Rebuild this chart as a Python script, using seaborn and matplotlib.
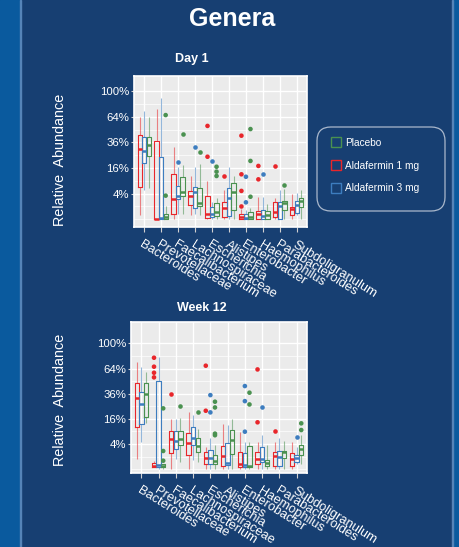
import pandas as pd
import matplotlib
matplotlib.use('Agg')
import matplotlib.pyplot as plt
import matplotlib.transforms as mtransforms
import numpy as np
import seaborn as sns
from matplotlib.patches import Rectangle, FancyBboxPatch
from matplotlib.lines import Line2D

genera = ['Bacteroides', 'Prevotellaceae', 'Faecalibacterium', 'Lachnospiraceae',
          'Escherichia', 'Alistipes', 'Enterobacter', 'Haemophilus',
          'Parabacteroides', 'Subdoligranulum']
groups = ['Aldafermin 1 mg', 'Aldafermin 3 mg', 'Placebo']
legend_order = ['Placebo', 'Aldafermin 1 mg', 'Aldafermin 3 mg']
colors = {'Aldafermin 1 mg': '#e8262b', 'Aldafermin 3 mg': '#3d7dbf', 'Placebo': '#4a9150'}

# box summaries, in %: (whisker low, Q1, median, Q3, whisker high), one per genus
day1_1mg = [(0.1, 6.5, 29.7, 43, 64), (0, 0, 0, 37.3, 73.5), (0, 0.15, 2.5, 12.3, 32),
            (0.1, 1.25, 3.4, 4.9, 11.4), (0, 0.01, 0.2, 3.3, 9.1), (0, 0.02, 0.73, 1.9, 5.2),
            (0, 0, 0.02, 0.15, 0.6), (0, 0, 0.15, 0.46, 3.1), (0, 0.02, 0.36, 1.75, 2.7),
            (0, 0.11, 0.6, 0.97, 3.8)]
day1_3mg = [(5.2, 19, 28.6, 40.8, 71.7), (0, 0, 0.01, 23.8, 90), (0.2, 2.5, 3.4, 6.9, 16.8),
            (0.2, 0.83, 4.4, 6.5, 16.4), (0, 0.04, 0.17, 0.87, 1.9), (0, 0.07, 2.7, 5.8, 16.8),
            (0, 0, 0.01, 0.15, 0.5), (0, 0, 0.08, 0.53, 3.1), (0, 0, 1.08, 1.9, 5.2),
            (0.1, 0.27, 1.25, 2, 4.1)]
day1_placebo = [(5.8, 24.4, 33.5, 40.8, 64), (0, 0, 0.02, 0.15, 1.0), (0.2, 3.3, 4.4, 10.7, 17.9),
                (0.1, 1.1, 1.7, 6.1, 18.4), (0, 0.07, 0.3, 1.55, 2.7), (0, 0.5, 4.6, 8.2, 11.4),
                (0, 0, 0.04, 0.3, 0.73), (0, 0, 0.1, 0.39, 1.4), (0, 0.53, 1.55, 2.1, 5.5),
                (0, 0.97, 2, 2.85, 5.2)]

week12_1mg = [(0.6, 11, 32.3, 46.5, 73), (0.02, 0.02, 0.06, 0.27, 0.46), (0, 1.6, 5.6, 9.4, 15.9),
              (0, 1.27, 4.2, 8.1, 20.9), (0, 0.17, 0.74, 1.9, 3.2), (0, 0.08, 1.15, 3.4, 12.7),
              (0, 0.04, 0.15, 1.9, 8.9), (0, 0.15, 0.6, 1.9, 4.8), (0, 0.06, 1.1, 1.9, 4.8),
              (0, 0.06, 0.65, 1.6, 4.8)]
week12_3mg = [(4.8, 12.9, 26.5, 37.9, 66.4), (0, 0.04, 0.11, 49, 80), (0.6, 2.7, 5.1, 9.4, 15.9),
              (0.5, 3.7, 6.3, 11, 18.5), (0, 0.15, 0.83, 2.3, 6), (0, 0.1, 0.27, 4.2, 12.3),
              (0, 0.04, 0.11, 1.6, 4.8), (0, 0.36, 0.6, 3, 7.4), (0, 0.08, 1, 2.2, 6),
              (0.2, 0.36, 0.74, 1.27, 3.2)]
week12_placebo = [(13.3, 17.4, 35.4, 46.5, 60), (0, 0.02, 0.06, 0.15, 0.2), (0.35, 3.7, 5.6, 9.2, 16.3),
                  (0.35, 1.8, 3.4, 6, 10), (0, 0.15, 0.46, 1.27, 3.7), (0, 1.4, 5.4, 9.7, 15.7),
                  (0, 0.02, 0.06, 3.5, 4.8), (0, 0.06, 0.27, 0.53, 3.7), (0, 0.74, 1.8, 2.1, 5.1),
                  (0.2, 1.27, 2.5, 3.7, 7.4)]

# outlier points: (genus, group, %)
day1_outliers = [
    ('Escherichia', 'Aldafermin 1 mg', 53), ('Escherichia', 'Aldafermin 1 mg', 23.8),
    ('Alistipes', 'Aldafermin 1 mg', 11.6),
    ('Enterobacter', 'Aldafermin 1 mg', 42.5), ('Enterobacter', 'Aldafermin 1 mg', 12.3),
    ('Enterobacter', 'Aldafermin 1 mg', 4.9), ('Enterobacter', 'Aldafermin 1 mg', 1.0),
    ('Haemophilus', 'Aldafermin 1 mg', 17.3), ('Haemophilus', 'Aldafermin 1 mg', 9.7),
    ('Parabacteroides', 'Aldafermin 1 mg', 17.5),
    ('Faecalibacterium', 'Aldafermin 3 mg', 19.7), ('Lachnospiraceae', 'Aldafermin 3 mg', 32),
    ('Escherichia', 'Aldafermin 3 mg', 20.9), ('Enterobacter', 'Aldafermin 3 mg', 11),
    ('Enterobacter', 'Aldafermin 3 mg', 1.75), ('Haemophilus', 'Aldafermin 3 mg', 12.3),
    ('Prevotellaceae', 'Placebo', 3.4), ('Prevotellaceae', 'Placebo', 66),
    ('Faecalibacterium', 'Placebo', 44.6), ('Lachnospiraceae', 'Placebo', 27.8),
    ('Escherichia', 'Placebo', 16.8), ('Escherichia', 'Placebo', 13.8), ('Escherichia', 'Placebo', 11.4),
    ('Enterobacter', 'Placebo', 49.5), ('Enterobacter', 'Placebo', 20.7), ('Enterobacter', 'Placebo', 3.1),
    ('Parabacteroides', 'Placebo', 7.2),
]
week12_outliers = [
    ('Prevotellaceae', 'Aldafermin 1 mg', 78.5), ('Prevotellaceae', 'Aldafermin 1 mg', 66.4),
    ('Prevotellaceae', 'Aldafermin 1 mg', 58.8), ('Prevotellaceae', 'Aldafermin 1 mg', 53.3),
    ('Faecalibacterium', 'Aldafermin 1 mg', 35.7),
    ('Escherichia', 'Aldafermin 1 mg', 67.7), ('Escherichia', 'Aldafermin 1 mg', 21.6),
    ('Haemophilus', 'Aldafermin 1 mg', 62.9), ('Haemophilus', 'Aldafermin 1 mg', 13.9),
    ('Parabacteroides', 'Aldafermin 1 mg', 9.4),
    ('Escherichia', 'Aldafermin 3 mg', 34.7), ('Escherichia', 'Aldafermin 3 mg', 20.4),
    ('Enterobacter', 'Aldafermin 3 mg', 43.7), ('Enterobacter', 'Aldafermin 3 mg', 29.3),
    ('Enterobacter', 'Aldafermin 3 mg', 8.9), ('Haemophilus', 'Aldafermin 3 mg', 24.1),
    ('Subdoligranulum', 'Aldafermin 3 mg', 6.7),
    ('Prevotellaceae', 'Placebo', 23.4), ('Prevotellaceae', 'Placebo', 2.1), ('Prevotellaceae', 'Placebo', 0.46),
    ('Faecalibacterium', 'Placebo', 25.2), ('Lachnospiraceae', 'Placebo', 20.9),
    ('Escherichia', 'Placebo', 28.8), ('Escherichia', 'Placebo', 24.1),
    ('Escherichia', 'Placebo', 8.0), ('Escherichia', 'Placebo', 7.3),
    ('Enterobacter', 'Placebo', 37), ('Enterobacter', 'Placebo', 26.5),
    ('Subdoligranulum', 'Placebo', 13.3), ('Subdoligranulum', 'Placebo', 9.7),
]

major_ticks = [4, 16, 36, 64, 100]
minor_ticks = [0, 1, 9, 25, 49, 81]

navy = '#173f72'
strip = '#0a5a9e'
font = ['Liberation Sans', 'DejaVu Sans']
plt.rcParams['font.family'] = font


def to_frame(per_group):
    rows = []
    for group, stats in per_group.items():
        for genus, five in zip(genera, stats):
            for v in five:
                rows.append({'genus': genus, 'group': group, 'abundance': v})
    return pd.DataFrame(rows)


def fwd(x):
    return np.sign(x) * np.sqrt(np.abs(x))


def inv(x):
    return np.sign(x) * x ** 2


def draw_panel(ax, box_df, out_df, ylim):
    ax.set_facecolor('#ebebeb')
    ax.set_yscale('function', functions=(fwd, inv))
    sns.boxplot(data=box_df, x='genus', y='abundance', hue='group', order=genera,
                hue_order=groups, palette=colors, whis=(0, 100), width=0.8, gap=0.06,
                fill=False, linewidth=0.8, showcaps=False, legend=False,
                medianprops={'linewidth': 1.8}, whiskerprops={'alpha': 0.55}, ax=ax)
    for p in ax.patches:
        p.set_facecolor('white')
        p.set_fill(True)
    sns.stripplot(data=out_df, x='genus', y='abundance', hue='group', order=genera,
                  hue_order=groups, palette=colors, dodge=True, jitter=False, size=3.3,
                  linewidth=0, legend=False, zorder=5, ax=ax)
    ax.set_xlim(-0.6, 9.6)
    ax.set_ylim(*ylim)
    ax.set_yticks(major_ticks)
    ax.set_yticklabels([f'{t}%' for t in major_ticks])
    ax.set_yticks(minor_ticks, minor=True)
    ax.set_xticks(range(len(genera)))
    ax.set_xticklabels(genera, rotation=-32, ha='left', va='top', rotation_mode='anchor')
    offset = mtransforms.ScaledTranslation(-1.5 / 72, 0, ax.figure.dpi_scale_trans)
    for lbl in ax.get_xticklabels():
        lbl.set_transform(lbl.get_transform() + offset)
    ax.grid(True, which='major', color='white', linewidth=1.0)
    ax.grid(True, which='minor', axis='y', color='white', linewidth=0.5)
    ax.set_axisbelow(True)
    ax.tick_params(axis='y', which='major', labelsize=8.2, colors='#d0d0d0', labelcolor='white',
                   length=2.5, width=0.8, pad=1)
    ax.tick_params(axis='x', which='major', labelsize=9.3, colors='#d0d0d0', labelcolor='white',
                   length=3.5, width=0.8, pad=5)
    ax.tick_params(which='minor', length=0)
    ax.set_xlabel('')
    ax.set_ylabel('')
    for s in ax.spines.values():
        s.set_color('white')
        s.set_linewidth(1.2)


fig = plt.figure(figsize=(4.6, 5.47), dpi=100, facecolor=navy)
W, H = 460, 547

# border strips
fig.patches.append(Rectangle((0, 0), 20 / W, 1, transform=fig.transFigure, color=strip, zorder=0))
fig.patches.append(Rectangle((453 / W, 0), 7 / W, 1, transform=fig.transFigure, color=strip, zorder=0))
fig.patches.append(Rectangle((20 / W, 0), 1.2 / W, 1, transform=fig.transFigure, color='#5584b8', zorder=0))
fig.patches.append(Rectangle((452 / W, 0), 1.2 / W, 1, transform=fig.transFigure, color='#5584b8', zorder=0))

ax1 = fig.add_axes([134 / W, 1 - 227 / H, 173 / W, 151 / H])
ax2 = fig.add_axes([131 / W, 1 - 473 / H, 176 / W, 151 / H])

day1_box = to_frame({'Aldafermin 1 mg': day1_1mg, 'Aldafermin 3 mg': day1_3mg, 'Placebo': day1_placebo})
week12_box = to_frame({'Aldafermin 1 mg': week12_1mg, 'Aldafermin 3 mg': week12_3mg, 'Placebo': week12_placebo})
day1_out = pd.DataFrame(day1_outliers, columns=['genus', 'group', 'abundance'])
week12_out = pd.DataFrame(week12_outliers, columns=['genus', 'group', 'abundance'])

draw_panel(ax1, day1_box, day1_out, (-0.36, 124.8))
draw_panel(ax2, week12_box, week12_out, (-0.09, 136.9))

fig.text(232 / W, 1 - 19 / H, 'Genera', color='white', fontsize=18, fontweight='bold',
         ha='center', va='center')
fig.text(192 / W, 1 - 59 / H, 'Day 1', color='white', fontsize=9, fontweight='bold',
         ha='center', va='center')
fig.text(202 / W, 1 - 308 / H, 'Week 12', color='white', fontsize=9, fontweight='bold',
         ha='center', va='center')
fig.text(60 / W, 1 - 160 / H, 'Relative  Abundance', color='white', fontsize=10.4,
         rotation=90, ha='center', va='center')
fig.text(60 / W, 1 - 400 / H, 'Relative  Abundance', color='white', fontsize=10.4,
         rotation=90, ha='center', va='center')

# legend box
box = FancyBboxPatch((317 / W, 1 - 211 / H), 128 / W, 84 / H, transform=fig.transFigure,
                     boxstyle='round,pad=0,rounding_size=0.03', mutation_aspect=W / H,
                     facecolor='none', edgecolor='#aab8cc', linewidth=0.9)
fig.patches.append(box)
handles = [Line2D([], [], marker='s', linestyle='none', markersize=7, markerfacecolor='none',
                  markeredgecolor=colors[g], markeredgewidth=1.0) for g in legend_order]
leg = fig.legend(handles, legend_order, loc='upper left', bbox_to_anchor=(331 / W, 1 - 138 / H),
                 frameon=False, fontsize=7.3, labelcolor='white', handlelength=0.9,
                 handletextpad=0.5, labelspacing=1.25, borderpad=0, borderaxespad=0)

fig.savefig('out.png', dpi=100, facecolor=navy)
